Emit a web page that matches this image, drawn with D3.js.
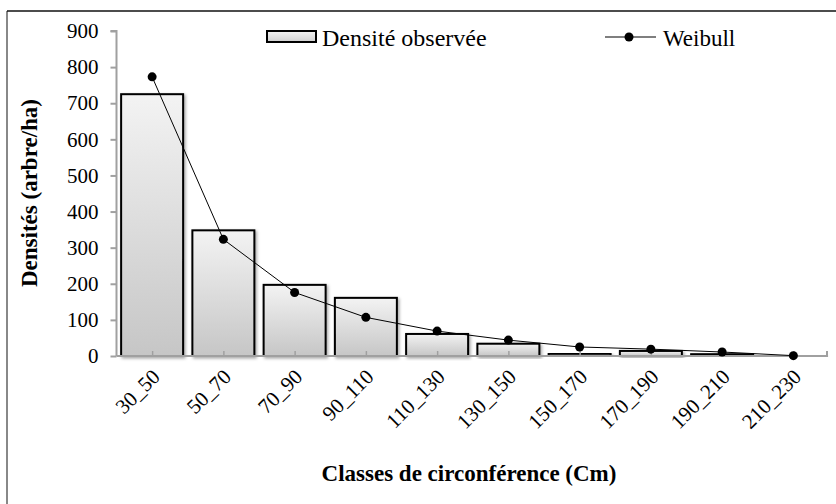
<!DOCTYPE html>
<html><head><meta charset="utf-8">
<script src="https://cdn.jsdelivr.net/npm/d3@7"></script>
<style>body{margin:0;background:#fff}svg{display:block}</style>
</head><body><svg id="c" width="836" height="504"></svg>
<script>
const categories = ["30_50","50_70","70_90","90_110","110_130","130_150","150_170","170_190","190_210","210_230"];
const observed = [725, 348, 197, 161, 61, 34, 6, 14, 5, 1];
const weibull = [773, 323, 176, 107, 69, 44, 25, 19, 11, 1];
const yTicks = [0,100,200,300,400,500,600,700,800,900];
const seriesNames = ["Densité observée", "Weibull"];
const yTitle = "Densités (arbre/ha)";
const xTitle = "Classes de circonférence (Cm)";
const FONT = "'Liberation Serif', 'Times New Roman', Tinos, serif";

const svg = d3.select("#c");
const defs = svg.append("defs");
const g = defs.append("linearGradient").attr("id","bg").attr("x1",0).attr("y1",0).attr("x2",0).attr("y2",1);
g.append("stop").attr("offset","0%").attr("stop-color","#f3f3f3");
g.append("stop").attr("offset","100%").attr("stop-color","#c6c6c6");
const lg = defs.append("linearGradient").attr("id","lg").attr("x1",0).attr("y1",0).attr("x2",0).attr("y2",1);
lg.append("stop").attr("offset","0%").attr("stop-color","#f3f3f3");
lg.append("stop").attr("offset","100%").attr("stop-color","#cfcfcf");
const f = defs.append("filter").attr("id","sh").attr("x","-20%").attr("y","-20%").attr("width","140%").attr("height","140%");
f.append("feDropShadow").attr("dx",1.5).attr("dy",1.5).attr("stdDeviation",1.5).attr("flood-color","#000").attr("flood-opacity",0.35);

// frame
svg.append("line").attr("x1",7).attr("x2",7).attr("y1",11).attr("y2",504).attr("stroke","#888").attr("stroke-width",2);
svg.append("line").attr("x1",7).attr("x2",836).attr("y1",11).attr("y2",11).attr("stroke","#111").attr("stroke-width",1.5);

const x0 = 116.5, x1 = 829, yTop = 31, yBot = 356;
const x = d3.scaleBand().domain(categories).range([x0, x1]).paddingInner(0.13).paddingOuter(0.065);
const xc = d3.scalePoint().domain(categories).range([x0, x1]).padding(0.5);
const y = d3.scaleLinear().domain([0, 900]).range([yBot, yTop]);

// y axis
const ya = svg.append("g").attr("transform",`translate(${x0},0)`).call(d3.axisLeft(y).tickValues(yTicks).tickSize(6).tickPadding(12));
ya.attr("font-family",null).attr("font-size",null);
ya.select(".domain").attr("stroke","#a0a0a0").attr("stroke-width",2).attr("d",`M-6,${yTop}H0V${yBot}`);
ya.selectAll(".tick line").attr("stroke","#a0a0a0").attr("stroke-width",2);
ya.selectAll(".tick text").attr("fill","#000").style("font-family",FONT).style("font-size","21px");

// bars
svg.append("g").selectAll("rect").data(categories).join("rect")
  .attr("x", d => x(d)).attr("width", x.bandwidth())
  .attr("y", (d,i) => y(observed[i])).attr("height", (d,i) => y(0) - y(observed[i]))
  .attr("fill","url(#bg)").attr("stroke","#000").attr("stroke-width",2).attr("filter","url(#sh)");

// x axis
const xa = svg.append("g").attr("transform",`translate(0,${yBot})`).call(d3.axisBottom(xc).tickSize(-5).tickSizeOuter(0).tickFormat(""));
xa.select(".domain").attr("stroke","#a0a0a0").attr("stroke-width",2).attr("d",`M${x0},0H${x1-2}V-5`);
xa.selectAll(".tick line").attr("stroke","#a0a0a0").attr("stroke-width",1.5);
svg.append("g").selectAll("text").data(categories).join("text")
  .attr("transform", d => `translate(${xc(d)+9},${yBot+22}) rotate(-45)`)
  .style("font-family",FONT).style("font-size","21px")
  .attr("text-anchor","end").text(d => d);

// line
const line = d3.line().x((d,i) => xc(categories[i])).y(d => y(d));
svg.append("path").datum(weibull).attr("d", line).attr("fill","none").attr("stroke","#000").attr("stroke-width",1);
svg.append("g").selectAll("circle").data(weibull).join("circle")
  .attr("cx",(d,i)=>xc(categories[i])).attr("cy",d=>y(d)).attr("r",4.5).attr("fill","#000");

// legend
svg.append("rect").attr("x",267).attr("y",31).attr("width",49).attr("height",11).attr("fill","url(#lg)").attr("stroke","#000").attr("stroke-width",2);
svg.append("text").attr("x",322).attr("y",46).style("font-family",FONT).style("font-size","24px").text(seriesNames[0]);
svg.append("line").attr("x1",605).attr("x2",656).attr("y1",37).attr("y2",37).attr("stroke","#000").attr("stroke-width",1.2);
svg.append("circle").attr("cx",629).attr("cy",37).attr("r",4.5).attr("fill","#000");
svg.append("text").attr("x",663).attr("y",46).style("font-family",FONT).style("font-size","23px").text(seriesNames[1]);

// titles
svg.append("text").attr("transform",`translate(37,193) rotate(-90)`).attr("text-anchor","middle")
  .style("font-family",FONT).style("font-size","23px").style("font-weight","bold").text(yTitle);
svg.append("text").attr("x",469).attr("y",481).attr("text-anchor","middle")
  .style("font-family",FONT).style("font-size","23px").style("font-weight","bold").text(xTitle);
</script></body></html>
